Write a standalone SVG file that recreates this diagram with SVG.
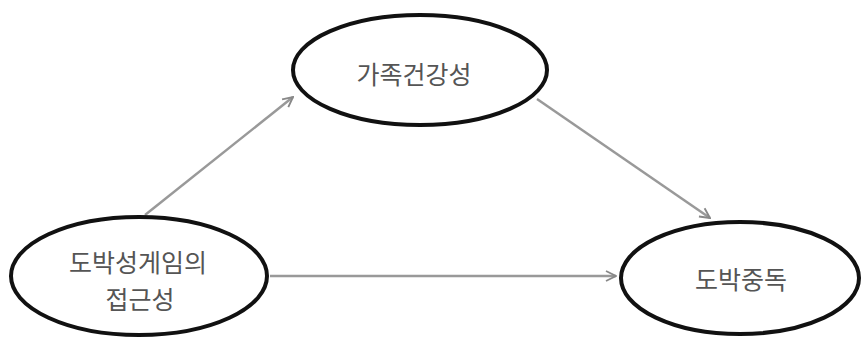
<svg xmlns="http://www.w3.org/2000/svg" width="865" height="340" viewBox="0 0 865 340">
<style>
.node ellipse{fill:#fff;stroke:#111;stroke-width:4}
.node text{font-family:"Noto Sans CJK KR","Noto Sans",sans-serif;font-size:25px;fill:#555;text-anchor:middle}
.edge{stroke:#999;stroke-width:2.5;fill:none;marker-end:url(#arr)}
</style>
<defs>
<marker id="arr" viewBox="0 0 10 10" refX="9" refY="5" markerWidth="5" markerHeight="5" orient="auto" markerUnits="strokeWidth">
<path d="M1,1 L9,5 L1,9" fill="none" stroke="#888" stroke-width="1.5"/>
</marker>
</defs>
<rect width="865" height="340" fill="#fff"/>
<g id="connectors">
<line class="edge" x1="145" y1="215" x2="293" y2="97"/>
<line class="edge" x1="537" y1="99" x2="710" y2="218"/>
<line class="edge" x1="270" y1="276" x2="616" y2="276"/>
</g>
<g id="node-family" class="node">
<ellipse cx="420" cy="70" rx="127" ry="55"/>
<text x="414" y="84">가족건강성</text>
</g>
<g id="node-access" class="node">
<ellipse cx="139" cy="276" rx="128" ry="59"/>
<text x="138" y="272">도박성게임의</text>
<text x="140" y="309">접근성</text>
</g>
<g id="node-addiction" class="node">
<ellipse cx="740" cy="278" rx="119" ry="56"/>
<text x="741" y="289">도박중독</text>
</g>
</svg>
